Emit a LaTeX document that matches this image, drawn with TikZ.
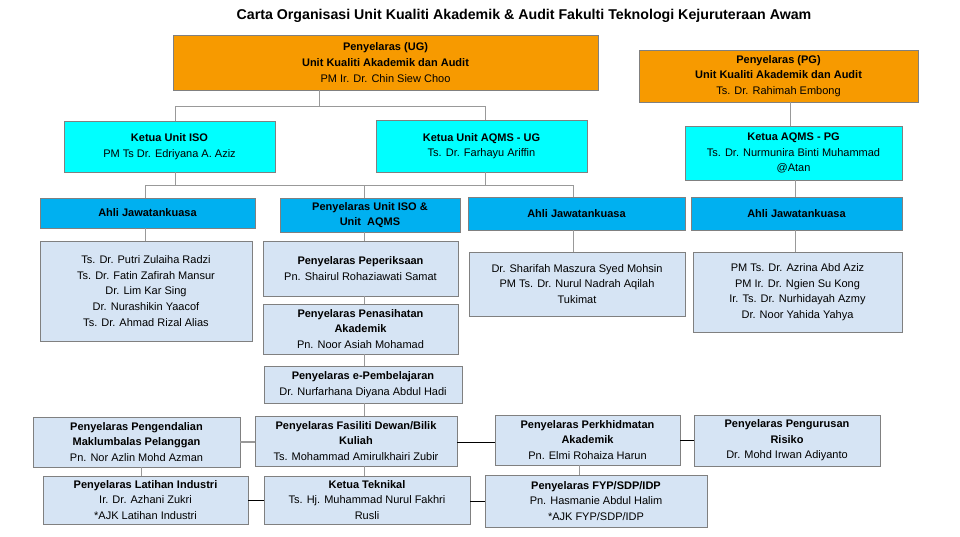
\documentclass[tikz,border=0pt]{standalone}
\usepackage{fontspec}
\setmainfont{Liberation Sans}
\begin{document}
\begin{tikzpicture}[x=1pt,y=-1pt,
  bx/.style={draw=black!50,line width=0.7pt,align=center,inner sep=1pt,font=\fontsize{11}{15.6}\selectfont},
  org/.style={bx,fill={rgb,255:red,247;green,154;blue,0}},
  cy/.style={bx,fill={rgb,255:red,0;green,255;blue,255}},
  bl/.style={bx,fill={rgb,255:red,0;green,176;blue,240}},
  lt/.style={bx,fill={rgb,255:red,214;green,228;blue,244}},
  ln/.style={draw=black!40,line width=0.8pt}]
\useasboundingbox (0,0) rectangle (960,536);
\def\bx#1#2#3#4#5#6#7{\node[#6,minimum width={#4-#2},minimum height={#5-#3}] (#1) at ({(#2+#4)/2},{(#3+#5)/2}) {#7};}
\node[font=\bfseries\fontsize{14.2}{16}\selectfont] (title) at (524,16) {Carta Organisasi Unit Kualiti Akademik \& Audit Fakulti Teknologi Kejuruteraan Awam};
\coordinate (c319) at (319,0); \coordinate (c175) at (175,0); \coordinate (c485) at (485,0);
\coordinate (c145) at (145,0); \coordinate (c364) at (364,0); \coordinate (c573) at (573,0);
\coordinate (c141) at (141,0); \coordinate (c579) at (579,0); \coordinate (c795) at (795,0);
\coordinate (c790) at (790,0);
\coordinate (b1y) at (0,106); \coordinate (b2y) at (0,185);
\bx{ug}{173}{35}{598}{90}{org}{\textbf{Penyelaras (UG)}\\\textbf{Unit Kualiti Akademik dan Audit}\\PM Ir. Dr. Chin Siew Choo}
\bx{pg}{639}{50}{918}{102}{org}{\textbf{Penyelaras (PG)}\\\textbf{Unit Kualiti Akademik dan Audit}\\Ts. Dr. Rahimah Embong}
\bx{iso}{64}{121}{275}{172}{cy}{\textbf{Ketua Unit ISO}\\PM Ts Dr. Edriyana A. Aziz}
\bx{aqug}{376}{120}{587}{172}{cy}{\textbf{Ketua Unit AQMS - UG}\\Ts. Dr. Farhayu Ariffin}
\bx{aqpg}{685}{126}{902}{180}{cy}{\textbf{Ketua AQMS - PG}\\Ts. Dr. Nurmunira Binti Muhammad\\@Atan}
\bx{ajl}{40}{198}{255}{228}{bl}{\textbf{Ahli Jawatankuasa}}
\bx{pis}{280}{198}{460}{232}{bl}{\textbf{Penyelaras Unit ISO \&}\\\textbf{Unit\ \ AQMS}}
\bx{ajm}{468}{197}{685}{230}{bl}{\textbf{Ahli Jawatankuasa}}
\bx{ajr}{691}{197}{902}{230}{bl}{\textbf{Ahli Jawatankuasa}}
\bx{lsl}{40}{241}{252}{341}{lt}{Ts. Dr. Putri Zulaiha Radzi\\Ts. Dr. Fatin Zafirah Mansur\\Dr. Lim Kar Sing\\Dr. Nurashikin Yaacof\\Ts. Dr. Ahmad Rizal Alias}
\bx{pep}{263}{241}{458}{296}{lt}{\textbf{Penyelaras Peperiksaan}\\Pn. Shairul Rohaziawati Samat}
\bx{pen}{263}{304}{458}{354}{lt}{\textbf{Penyelaras Penasihatan}\\\textbf{Akademik}\\Pn. Noor Asiah Mohamad}
\bx{lsm}{469}{252}{685}{316}{lt}{Dr. Sharifah Maszura Syed Mohsin\\PM Ts. Dr. Nurul Nadrah Aqilah\\Tukimat}
\bx{lsr}{693}{252}{902}{332}{lt}{PM Ts. Dr. Azrina Abd Aziz\\PM Ir. Dr. Ngien Su Kong\\Ir. Ts. Dr. Nurhidayah Azmy\\Dr. Noor Yahida Yahya}
\bx{epb}{264}{366}{462}{403}{lt}{\textbf{Penyelaras e-Pembelajaran}\\Dr. Nurfarhana Diyana Abdul Hadi}
\bx{pgd}{33}{417}{240}{467}{lt}{\textbf{Penyelaras Pengendalian}\\\textbf{Maklumbalas Pelanggan}\\Pn. Nor Azlin Mohd Azman}
\bx{fas}{255}{416}{457}{466}{lt}{\textbf{Penyelaras Fasiliti Dewan/Bilik}\\\textbf{Kuliah}\\Ts. Mohammad Amirulkhairi Zubir}
\bx{pkh}{495}{415}{680}{465}{lt}{\textbf{Penyelaras Perkhidmatan}\\\textbf{Akademik}\\Pn. Elmi Rohaiza Harun}
\bx{pgr}{694}{415}{880}{466}{lt}{\textbf{Penyelaras Pengurusan}\\\textbf{Risiko}\\Dr. Mohd Irwan Adiyanto}
\bx{lat}{43}{476}{248}{524}{lt}{\textbf{Penyelaras Latihan Industri}\\Ir. Dr. Azhani Zukri\\*AJK Latihan Industri}
\bx{tek}{264}{476}{470}{524}{lt}{\textbf{Ketua Teknikal}\\Ts. Hj. Muhammad Nurul Fakhri\\Rusli}
\bx{fyp}{485}{475}{707}{527}{lt}{\textbf{Penyelaras FYP/SDP/IDP}\\Pn. Hasmanie Abdul Halim\\*AJK FYP/SDP/IDP}
\draw[ln] (ug.south -| c319) -- (c319 |- b1y);
\draw[ln] (iso.north -| c175) |- (c175 |- b1y) -| (aqug.north -| c485);
\draw[ln] (iso.south -| c175) -- (c175 |- b2y);
\draw[ln] (aqug.south -| c485) -- (c485 |- b2y);
\draw[ln] (ajl.north -| c145) |- (c145 |- b2y) -| (ajm.north -| c573);
\draw[ln] (pis.north -| c364) -- (c364 |- b2y);
\draw[ln] (ajl.south -| c145) -- (lsl.north -| c145);
\draw[ln] (pis.south -| c364) -- (pep.north -| c364);
\draw[ln] (pep.south -| c364) -- (pen.north -| c364);
\draw[ln] (pen.south -| c364) -- (epb.north -| c364);
\draw[ln] (epb.south -| c364) -- (fas.north -| c364);
\draw[ln] (fas.south -| c364) -- (tek.north -| c364);
\draw[ln] (ajm.south -| c573) -- (lsm.north -| c573);
\draw[ln] (pg.south -| c790) -- (aqpg.north -| c790);
\draw[ln] (aqpg.south -| c795) -- (ajr.north -| c795);
\draw[ln] (ajr.south -| c795) -- (lsr.north -| c795);
\draw[ln,line width=1.5pt] (pgd.east) -- (fas.west |- pgd.east);
\draw[ln,black] (fas.east |- pgd.east) -- (pkh.west |- pgd.east);
\draw[ln,black] (pkh.east) -- (pgr.west |- pkh.east);
\draw[ln] (pgd.south -| c141) -- (lat.north -| c141);
\draw[ln,black] (lat.east) -- (tek.west);
\draw[ln,black] (tek.east |- fyp.west) -- (fyp.west);
\draw[ln] (pkh.south -| c579) -- (fyp.north -| c579);
\end{tikzpicture}
\end{document}
